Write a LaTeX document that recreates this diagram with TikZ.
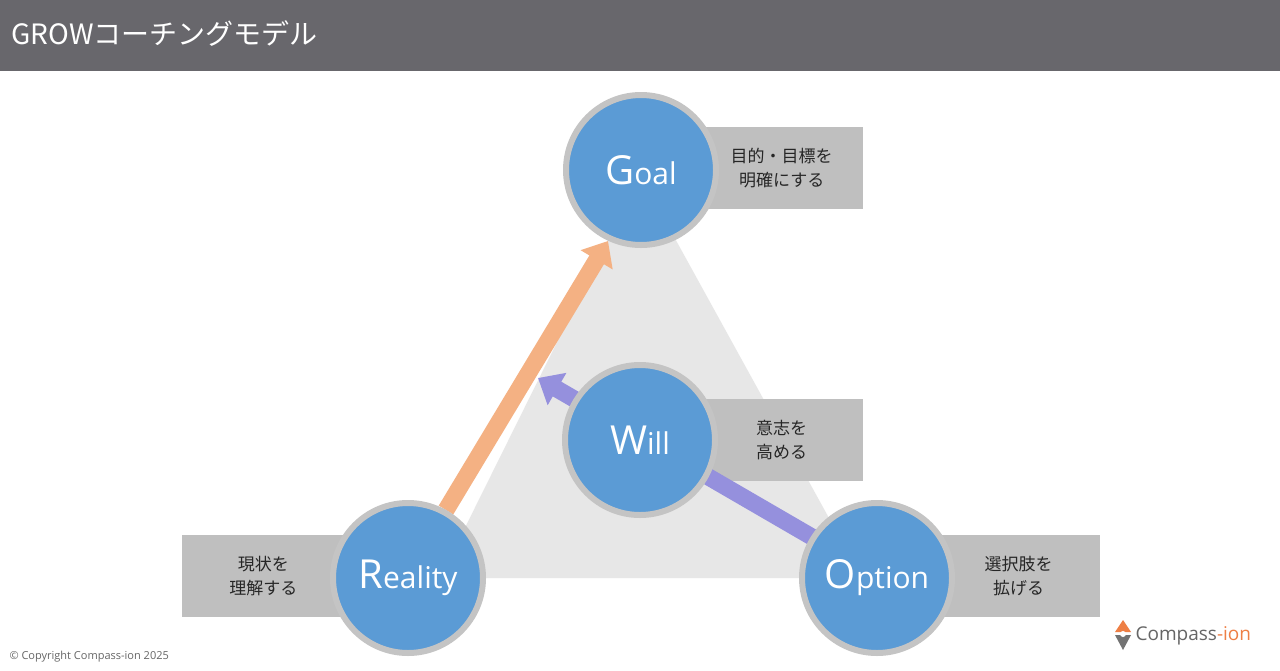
\documentclass[tikz,border=0pt]{standalone}
\usepackage{fontspec}
\setmainfont{Noto Sans CJK JP}
\newfontfamily\lat{Open Sans}
\usetikzlibrary{arrows.meta}
\definecolor{hdr}{HTML}{68676C}
\definecolor{tri}{HTML}{E7E7E7}
\definecolor{cfill}{HTML}{5B9BD5}
\definecolor{cbord}{HTML}{C4C4C4}
\definecolor{lbl}{HTML}{BFBFBF}
\definecolor{orng}{HTML}{F4B183}
\definecolor{purp}{HTML}{9590DD}
\definecolor{logoor}{HTML}{EE7F45}
\begin{document}
\begin{tikzpicture}[x=1pt,y=-1pt,
  circ/.style={circle,fill=cfill,draw=cbord,line width=6pt,minimum size=150pt,inner sep=0pt,text=white,font=\lat\fontsize{30}{30}\selectfont},
  lab/.style={fill=lbl,minimum width=163pt,minimum height=82pt,inner sep=0pt,font=\fontsize{17}{24}\selectfont,align=center,text=black!85},
  arr/.style={line width=17pt,-{Triangle[length=22pt,width=36pt]}}]
\useasboundingbox (0,0) rectangle (1280,670);
\fill[white] (0,0) rectangle (1280,670);
\fill[hdr] (0,0) rectangle (1280,71);
\node[anchor=west,text=white,font=\fontsize{28}{30}\selectfont] (title) at (8,34) {GROWコーチングモデル};
\fill[tri] (640,175) -- (440,578) -- (862,578) -- cycle;
% label boxes
\node[lab,anchor=west] (gl) at (700,168) {目的・目標を\\明確にする};
\node[lab,anchor=west] (wl) at (700,440) {意志を\\高める};
\node[lab,anchor=east] (rl) at (345,576) {現状を\\理解する};
\node[lab,anchor=west] (ol) at (937,576) {選択肢を\\拡げる};
\coordinate (os) at (812,537);
\coordinate (wt) at (538,378);
\coordinate (rs) at (446,510);
\coordinate (gt) at (608,241);
\draw[arr,purp] (os) -- (wt);
\draw[arr,orng] (rs) -- (gt);
\node[circ] (G) at (641,170) {{\fontsize{40}{40}\selectfont G}oal};
\node[circ] (W) at (640,440) {{\fontsize{40}{40}\selectfont W}ill};
\node[circ] (R) at (408,578) {{\fontsize{40}{40}\selectfont R}eality};
\node[circ] (O) at (877,578) {{\fontsize{40}{40}\selectfont O}ption};
\node[anchor=west,text=black!60,font=\lat\fontsize{11}{12}\selectfont] (copy) at (6,657) {© Copyright Compass-ion 2025};
% logo
\fill[logoor] (1123,620) -- (1131,632) -- (1115,632) -- cycle;
\fill[black!55] (1115,635) -- (1131,635) -- (1123,650) -- cycle;
\fill[white] (1123,634) circle (3pt);
\node[anchor=west,font=\lat\fontsize{19}{20}\selectfont] (logo) at (1132,636) {\textcolor{black!60}{Compass}\textcolor{logoor}{-ion}};
\end{tikzpicture}
\end{document}
